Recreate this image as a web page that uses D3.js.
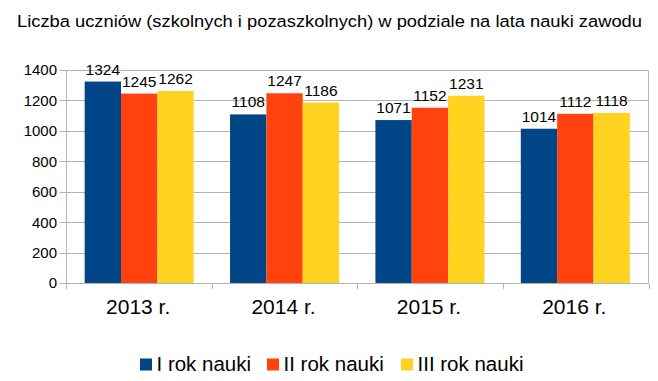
<!DOCTYPE html>
<html>
<head>
<meta charset="utf-8">
<script src="https://cdn.jsdelivr.net/npm/d3@7"></script>
<style>
  html, body { margin: 0; padding: 0; background: #fff; }
  text { font-family: "Liberation Sans", Arial, sans-serif; fill: #000; }
</style>
</head>
<body>
<svg id="chart" width="658" height="381"></svg>
<script>
const title = "Liczba uczniów (szkolnych i pozaszkolnych) w podziale na lata nauki zawodu";
const categories = ["2013 r.", "2014 r.", "2015 r.", "2016 r."];
const seriesNames = ["I rok nauki", "II rok nauki", "III rok nauki"];
const seriesI = [1324, 1108, 1071, 1014];
const seriesII = [1245, 1247, 1152, 1112];
const seriesIII = [1262, 1186, 1231, 1118];
const yTicks = [0, 200, 400, 600, 800, 1000, 1200, 1400];
const colors = ["#004586", "#ff420e", "#ffd320"];

const seriesValues = [seriesI, seriesII, seriesIII];
const svg = d3.select("#chart");
const pLeft = 66.5, pRight = 648, pTop = 70, pBottom = 283;

const x0 = d3.scaleBand().domain(categories).range([pLeft, pRight]).paddingInner(0.25).paddingOuter(0.125);
const x1 = d3.scaleBand().domain(seriesNames).range([0, x0.bandwidth()]);
const y = d3.scaleLinear().domain([0, 1400]).range([pBottom, pTop]);

// title
const t = svg.append("text").attr("x", 329.5).attr("y", 27).attr("text-anchor", "middle")
  .style("font-size", "16.3px").text(title);
const w = t.node().getComputedTextLength();
if (Math.abs(w - 625) > 4) t.attr("textLength", 625).attr("lengthAdjust", "spacingAndGlyphs");

// gridlines
svg.append("g").selectAll("line").data(yTicks).join("line")
  .attr("x1", pLeft - 7).attr("x2", pRight)
  .attr("y1", d => Math.round(y(d)) + 0.5).attr("y2", d => Math.round(y(d)) + 0.5)
  .attr("stroke", "#b3b3b3").attr("stroke-width", 1);

// right border
svg.append("line").attr("x1", pRight + 0.5).attr("x2", pRight + 0.5)
  .attr("y1", Math.round(y(1400)) + 0.5).attr("y2", Math.round(y(0)) + 0.5)
  .attr("stroke", "#b3b3b3");

// y axis line
svg.append("line").attr("x1", pLeft).attr("x2", pLeft)
  .attr("y1", Math.round(y(1400)) + 0.5).attr("y2", Math.round(y(0)) + 6)
  .attr("stroke", "#b3b3b3");

// category ticks
const boundaries = categories.map(c => x0(c) - x0.step() * x0.paddingInner() / 2);
boundaries.push(pRight + 0.5);
svg.append("g").selectAll("line").data(boundaries.slice(1)).join("line")
  .attr("x1", d => Math.round(d) + 0.5).attr("x2", d => Math.round(d) + 0.5)
  .attr("y1", Math.round(y(0)) + 0.5).attr("y2", Math.round(y(0)) + 6)
  .attr("stroke", "#b3b3b3");

// y tick labels
svg.append("g").selectAll("text").data(yTicks).join("text")
  .attr("x", 57).attr("y", d => y(d)).attr("dy", "0.36em")
  .attr("text-anchor", "end").style("font-size", "15px").text(d => d);

// bars
const groups = svg.append("g").selectAll("g").data(categories).join("g")
  .attr("transform", c => `translate(${x0(c)},0)`);
groups.selectAll("rect").data((c, i) => seriesNames.map((s, j) => ({ s, j, v: seriesValues[j][i] })))
  .join("rect")
  .attr("x", d => x1(d.s)).attr("width", x1.bandwidth())
  .attr("y", d => y(d.v)).attr("height", d => y(0) - y(d.v))
  .attr("fill", d => colors[d.j]);
groups.selectAll("text").data((c, i) => seriesNames.map((s, j) => ({ s, j, v: seriesValues[j][i] })))
  .join("text")
  .attr("x", d => x1(d.s) + x1.bandwidth() / 2).attr("y", d => y(d.v) - 7)
  .attr("text-anchor", "middle").style("font-size", "15.5px").text(d => d.v);

// category labels
svg.append("g").selectAll("text").data(categories).join("text")
  .attr("x", c => x0(c) + x0.bandwidth() / 2 - 1).attr("y", 314)
  .attr("text-anchor", "middle").style("font-size", "21px").text(c => c);

// legend
const legendX = [140, 267, 401];
const lg = svg.append("g").selectAll("g").data(seriesNames).join("g")
  .attr("transform", (d, i) => `translate(${legendX[i]},0)`);
lg.append("rect").attr("x", 0).attr("y", 358.5).attr("width", 12).attr("height", 12)
  .attr("fill", (d, i) => colors[i]);
lg.append("text").attr("x", 16.5).attr("y", 370.5).style("font-size", "20.5px").text(d => d);
</script>
</body>
</html>
